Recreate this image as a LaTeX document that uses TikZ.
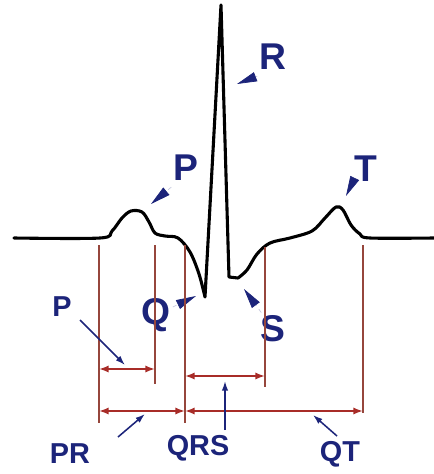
\documentclass[tikz,border=0pt]{standalone}
\usepackage{fontspec}
\setmainfont{Liberation Sans}
\usetikzlibrary{arrows.meta}
\definecolor{navy}{RGB}{28,36,122}
\definecolor{ecgred}{RGB}{168,44,40}
\definecolor{markbrown}{RGB}{150,70,60}

\begin{document}
\begin{tikzpicture}[x=0.025cm, y=-0.025cm,
    wave/.style={line width=2.2pt, line join=round, line cap=round},
    bigtag/.style={text=navy, font=\fontsize{26.5}{26.5}\selectfont\bfseries, inner sep=0pt},
    smalltag/.style={text=navy, font=\fontsize{20.5}{20.5}\selectfont\bfseries, inner sep=0pt},
    wedge/.style={navy!25, line width=0.5pt, dashed, -{Triangle[length=5mm, width=2.4mm, color=navy, fill=navy]}},
    pointer/.style={navy, line width=1.1pt, -{Latex[length=2.4mm, width=1.6mm]}},
    marker/.style={markbrown, line width=1.1pt},
    span/.style={ecgred, line width=1.4pt, {Latex[length=2.4mm, width=1.8mm]}-{Latex[length=2.4mm, width=1.8mm]}}]
    \useasboundingbox (0,0) rectangle (434,474);

    % trace
    \draw[wave] plot[smooth, tension=0.55] coordinates {(14,238) (100,238) (112,231) (122,218) (131,211) (142,212) (149,222) (155,233) (165,236) (178,238) (190,252) (199,274) (205,297)}
        -- (221,5) -- (229,277) -- plot[smooth, tension=0.55] coordinates {(238,278) (247,270) (257,254) (270,243) (290,238) (312,231) (325,218) (336,207) (343,210) (351,225) (360,234) (370,238) (434,238)};

    % wave names
    \node[bigtag] (tagR) at (273,57) {R};
    \node[bigtag] (tagP) at (186,168) {P};
    \node[bigtag] (tagT) at (366,169) {T};
    \node[bigtag] (tagQ) at (156,315) {Q};
    \node[bigtag] (tagS) at (273,329) {S};
    \coordinate (tipR) at (237,84);
    \coordinate (tipP) at (151,204);
    \coordinate (tipT) at (346,196);
    \coordinate (tipQ) at (196,296);
    \coordinate (tipS) at (244,289);
    \draw[wedge] (tagR.south west) ++(-2,6) coordinate (fromR) (fromR) -- (tipR);
    \draw[wedge] (tagP.south west) ++(-2,6) coordinate (fromP) (fromP) -- (tipP);
    \draw[wedge] (tagT.south west) ++(-4,5) coordinate (fromT) (fromT) -- (tipT);
    \draw[wedge] (tagQ.east) ++(2,-8) coordinate (fromQ) (fromQ) -- (tipQ);
    \draw[wedge] (tagS.north west) ++(1,-3) coordinate (fromS) (fromS) -- (tipS);

    % interval markers
    \draw[marker] (99,245) -- (99,423);
    \draw[marker] (155,245) -- (155,384);
    \draw[marker] (185,245) -- (185,423);
    \draw[marker] (265,247) -- (265,387);
    \draw[marker] (363,245) -- (363,413);

    \coordinate (pA) at (99,369);   \coordinate (pB) at (155,369);
    \coordinate (qrsA) at (185,376); \coordinate (qrsB) at (265,376);
    \coordinate (prA) at (99,411);  \coordinate (prB) at (185,411);
    \coordinate (qtA) at (185,411); \coordinate (qtB) at (363,411);
    \draw[span] (pA) -- (pB);
    \draw[span] (qrsA) -- (qrsB);
    \draw[span] (prA) -- (prB);
    \draw[span] (qtA) -- (qtB);

    % interval names
    \node[smalltag] (tagPint) at (62,307) {P};
    \node[smalltag] (tagPR) at (70,454) {PR};
    \node[smalltag] (tagQRS) at (198,448) {QRS};
    \node[smalltag] (tagQT) at (340,454) {QT};
    \coordinate (fromPint) at (80,320);  \coordinate (toPint) at (125,365);
    \coordinate (fromPR) at (118,437);   \coordinate (toPR) at (145,414);
    \coordinate (fromQRS) at (225,430);  \coordinate (toQRS) at (225,381);
    \coordinate (fromQT) at (337,436);   \coordinate (toQT) at (313,415);
    \draw[pointer] (fromPint) -- (toPint);
    \draw[pointer] (fromPR) -- (toPR);
    \draw[pointer] (fromQRS) -- (toQRS);
    \draw[pointer] (fromQT) -- (toQT);
\end{tikzpicture}
\end{document}
